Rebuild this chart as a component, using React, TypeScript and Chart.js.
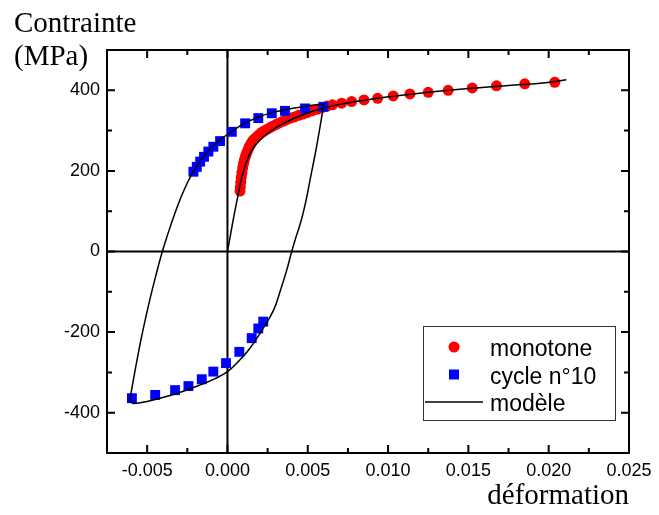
import React, { useEffect, useRef } from "react";
import { Chart, registerables } from "chart.js";
Chart.register(...registerables);

// ---- data ----
const monoX = [0.00078, 0.0008, 0.00083, 0.00086, 0.0009, 0.00095, 0.001, 0.00106, 0.00113, 0.0012, 0.00128, 0.00137, 0.00147, 0.00158, 0.0017, 0.00183, 0.00197, 0.00212, 0.00228, 0.00245, 0.00263, 0.00282, 0.00302, 0.00323, 0.00345, 0.00368, 0.00392, 0.00417, 0.00443, 0.0047, 0.00498, 0.00527, 0.00557, 0.00588, 0.0062, 0.00654, 0.00711, 0.00773, 0.0085, 0.00935, 0.01032, 0.01136, 0.0125, 0.01374, 0.01524, 0.01675, 0.01851, 0.02038];
const monoY = [150, 160, 172, 184, 196, 208, 218, 228, 237, 245, 253, 261, 268, 275, 280, 285, 290, 295, 299, 303, 307, 311, 315, 319, 323, 327, 331, 334, 338, 341, 345, 349, 353, 357, 361, 364, 368, 372, 376, 380, 386, 391, 395, 400, 406, 411, 416, 420];

const cycleX = [-0.00595, -0.0045, -0.00326, -0.00243, -0.0016, -0.00088, -0.00009, 0.00074, 0.00151, 0.00192, 0.00223, -0.00212, -0.00191, -0.0017, -0.00146, -0.00119, -0.00088, -0.00046, 0.00027, 0.0011, 0.00192, 0.00276, 0.00358, 0.00483, 0.00597];
const cycleY = [-364, -356, -344, -334, -317, -298, -277, -249, -215, -191, -174, 198, 210, 223, 235, 248, 260, 274, 297, 318, 331, 343, 349, 355, 359];

const modelMonoX = [0, 0.0002, 0.0004, 0.0006, 0.0008, 0.001, 0.0012, 0.0015, 0.002, 0.0028, 0.0037, 0.0045, 0.0053, 0.0062, 0.0071, 0.0085, 0.0103, 0.0125, 0.0152, 0.0175, 0.0198, 0.0211];
const modelMonoY = [0, 44, 88, 128, 168, 200, 224, 250, 276, 302, 322, 336, 348, 358, 366, 375, 385, 395, 405, 412, 419, 426];

const modelUpX = [0.006, 0.0048, 0.0036, 0.0027, 0.0019, 0.0011, 0.0003, -0.0005, -0.001, -0.0015, -0.0021, -0.0025, -0.0029, -0.0033, -0.0037, -0.0041, -0.0045, -0.0048, -0.0051, -0.0054, -0.0057, -0.0059, -0.0061];
const modelUpY = [366, 360, 352, 344, 333, 319, 299, 276, 258, 236, 200, 170, 134, 92, 45, -6, -66, -114, -166, -222, -284, -328, -372];

const modelLowX = [-0.0061, -0.0058, -0.005, -0.0038, -0.0027, -0.0017, -0.0008, 0, 0.0007, 0.0014, 0.0022, 0.0029, 0.0033, 0.0037, 0.004, 0.0043, 0.0046, 0.0049, 0.00514, 0.0055, 0.0058, 0.006];
const modelLowY = [-372, -377, -372, -360, -346, -331, -316, -298, -272, -240, -192, -143, -96, -45, 0, 40, 78, 128, 177, 250, 318, 366];

const xMajor = [-0.005, 0, 0.005, 0.01, 0.015, 0.02, 0.025];
const xMinor = [-0.0075, -0.0025, 0.0025, 0.0075, 0.0125, 0.0175, 0.0225];
const yMajor = [-400, -200, 0, 200, 400];
const yMinor = [-500, -300, -100, 100, 300, 500];

const legendLabels = ["monotone", "cycle n°10", "modèle"];

const pts = (xs: number[], ys: number[]) => xs.map((x, i) => ({ x, y: ys[i] }));

const SANS = '"Liberation Sans", Arial, Helvetica, sans-serif';
const SERIF = '"Liberation Serif", "Times New Roman", serif';

const framePlugin = {
  id: "frame",
  beforeDatasetsDraw(chart: any) {
    const { ctx, chartArea: a, scales } = chart;
    const x0 = scales.x.getPixelForValue(0);
    const y0 = scales.y.getPixelForValue(0);
    ctx.save();
    ctx.strokeStyle = "#000";
    ctx.lineWidth = 2;
    ctx.beginPath();
    ctx.moveTo(x0, a.top);
    ctx.lineTo(x0, a.bottom);
    ctx.moveTo(a.left, y0);
    ctx.lineTo(a.right, y0);
    ctx.stroke();
    ctx.restore();
  },
  afterDatasetsDraw(chart: any) {
    const { ctx, chartArea: a, scales } = chart;
    ctx.save();
    ctx.strokeStyle = "#000";
    ctx.lineWidth = 2;
    ctx.strokeRect(a.left, a.top, a.right - a.left, a.bottom - a.top);
    const tick = (vals: number[], len: number) => {
      vals.forEach((v) => {
        const px = scales.x.getPixelForValue(v);
        ctx.moveTo(px, a.bottom);
        ctx.lineTo(px, a.bottom - len);
        ctx.moveTo(px, a.top);
        ctx.lineTo(px, a.top + len);
      });
    };
    const ytick = (vals: number[], len: number) => {
      vals.forEach((v) => {
        const py = scales.y.getPixelForValue(v);
        ctx.moveTo(a.left, py);
        ctx.lineTo(a.left + len, py);
        ctx.moveTo(a.right, py);
        ctx.lineTo(a.right - len, py);
      });
    };
    ctx.beginPath();
    tick(xMajor, 8);
    tick(xMinor, 5);
    ytick(yMajor, 8);
    ytick(yMinor, 5);
    ctx.stroke();
    ctx.restore();
  },
  afterDraw(chart: any) {
    const { ctx } = chart;
    ctx.save();
    // y axis title
    ctx.fillStyle = "#000";
    ctx.font = `29px ${SERIF}`;
    ctx.textAlign = "left";
    ctx.textBaseline = "alphabetic";
    ctx.fillText("Contrainte", 14, 32);
    ctx.fillText("(MPa)", 14, 65);

    // legend
    const lx = 423.5, ly = 326.5, lw = 192, lh = 94;
    ctx.fillStyle = "#fff";
    ctx.fillRect(lx, ly, lw, lh);
    ctx.strokeStyle = "#333";
    ctx.lineWidth = 1;
    ctx.strokeRect(lx, ly, lw, lh);
    ctx.font = `23px ${SANS}`;
    ctx.fillStyle = "#000";
    ctx.fillText(legendLabels[0], 490, 356);
    ctx.fillText(legendLabels[1], 490, 384);
    ctx.fillText(legendLabels[2], 490, 411);
    ctx.fillStyle = "#ff0000";
    ctx.beginPath();
    ctx.arc(454, 347, 5.5, 0, Math.PI * 2);
    ctx.fill();
    ctx.fillStyle = "#0000ff";
    ctx.fillRect(449, 369.5, 10, 10);
    ctx.strokeStyle = "#000";
    ctx.lineWidth = 1.5;
    ctx.beginPath();
    ctx.moveTo(425, 402);
    ctx.lineTo(483, 402);
    ctx.stroke();
    ctx.restore();
  },
};

export default function App() {
  const ref = useRef<HTMLCanvasElement>(null);
  useEffect(() => {
    const lineDs = (data: any[]) => ({
      data,
      showLine: true,
      pointRadius: 0,
      borderColor: "#000",
      borderWidth: 1.5,
      tension: 0.4,
      fill: false,
      order: 0,
    });
    const chart = new Chart(ref.current as HTMLCanvasElement, {
      type: "scatter",
      data: {
        datasets: [
          { ...lineDs(pts(modelMonoX, modelMonoY)), label: legendLabels[2] },
          lineDs(pts(modelUpX, modelUpY)),
          lineDs(pts(modelLowX, modelLowY)),
          {
            label: legendLabels[0],
            data: pts(monoX, monoY),
            pointRadius: 5.5,
            pointBackgroundColor: "#ff0000",
            pointBorderWidth: 0,
            pointBorderColor: "#ff0000",
            showLine: false,
            order: 2,
          },
          {
            label: legendLabels[1],
            data: pts(cycleX, cycleY),
            pointStyle: "rect",
            pointRadius: 7,
            pointBackgroundColor: "#0000ff",
            pointBorderWidth: 0,
            pointBorderColor: "#0000ff",
            showLine: false,
            order: 1,
          },
        ] as any,
      },
      options: {
        responsive: true,
        maintainAspectRatio: false,
        animation: false,
        layout: { padding: { top: 50, right: 30, left: 0, bottom: 0 } },
        plugins: { legend: { display: false }, tooltip: { enabled: false } },
        scales: {
          x: {
            type: "linear",
            min: -0.0075,
            max: 0.025,
            grid: { display: false, drawTicks: false },
            border: { display: false },
            afterBuildTicks: (s: any) => {
              s.ticks = xMajor.map((v) => ({ value: v }));
            },
            afterFit: (s: any) => {
              s.height = 62;
            },
            ticks: {
              callback: (v: any) => Number(v).toFixed(3),
              color: "#000",
              font: { family: SANS, size: 18 },
              padding: 7,
              maxRotation: 0,
              autoSkip: false,
            },
            title: {
              display: true,
              text: "déformation",
              align: "end",
              color: "#000",
              font: { family: SERIF, size: 29 },
              padding: { top: 0, bottom: 1 },
            },
          },
          y: {
            type: "linear",
            min: -500,
            max: 500,
            grid: { display: false, drawTicks: false },
            border: { display: false },
            afterBuildTicks: (s: any) => {
              s.ticks = yMajor.map((v) => ({ value: v }));
            },
            afterFit: (s: any) => {
              s.width = 107;
            },
            ticks: {
              callback: (v: any) => String(v),
              color: "#000",
              font: { family: SANS, size: 18 },
              padding: 7,
              autoSkip: false,
            },
          },
        },
      } as any,
      plugins: [framePlugin],
    });
    return () => chart.destroy();
  }, []);
  return (
    <div style={{ position: "fixed", left: 0, top: 0, width: 659, height: 515, background: "#fff" }}>
      <canvas ref={ref} />
    </div>
  );
}
